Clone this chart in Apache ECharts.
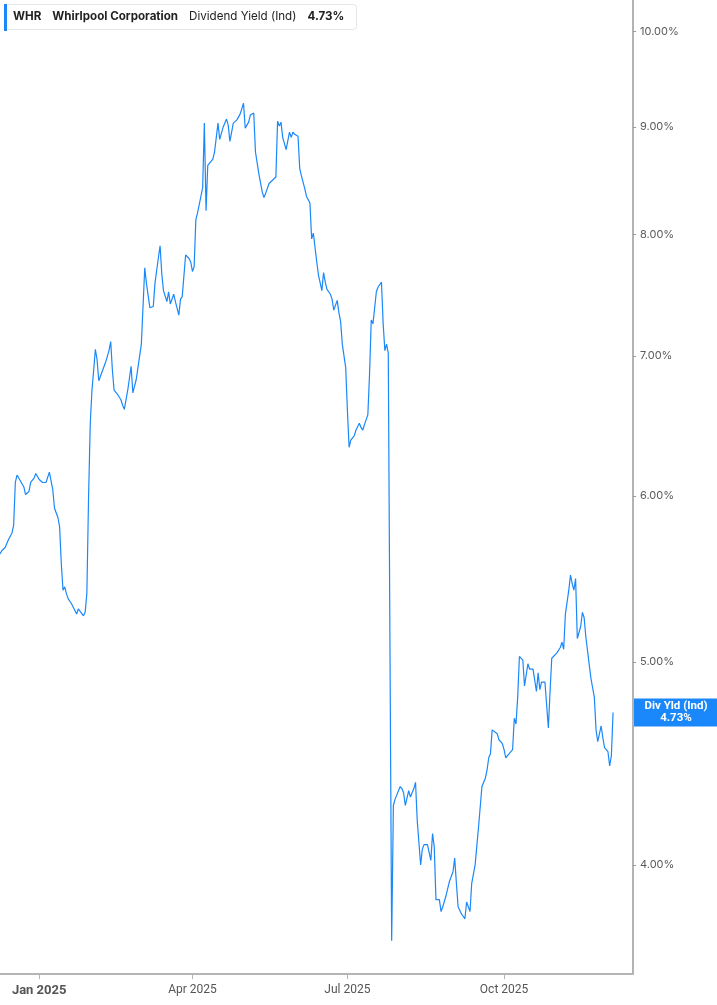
<!DOCTYPE html>
<html><head><meta charset="utf-8">
<script src="https://cdn.jsdelivr.net/npm/echarts@6/dist/echarts.min.js"></script>
<style>html,body{margin:0;padding:0;background:#fff}#c{width:717px;height:1005px}</style>
</head><body><div id="c"></div>
<script>
const dates = [
'2024-12-09','2024-12-10','2024-12-11','2024-12-12','2024-12-14','2024-12-16','2024-12-17','2024-12-18','2024-12-19','2024-12-21',
'2024-12-23','2024-12-24','2024-12-26','2024-12-27','2024-12-29','2024-12-30','2025-01-01','2025-01-03','2025-01-05','2025-01-07',
'2025-01-08','2025-01-09','2025-01-10','2025-01-12','2025-01-13','2025-01-14','2025-01-15','2025-01-16','2025-01-17','2025-01-18',
'2025-01-20','2025-01-21','2025-01-23','2025-01-24','2025-01-25','2025-01-27','2025-01-28','2025-01-29','2025-01-30','2025-01-31',
'2025-02-01','2025-02-02','2025-02-03','2025-02-04','2025-02-05','2025-02-06','2025-02-07','2025-02-09','2025-02-11','2025-02-12',
'2025-02-13','2025-02-14','2025-02-16','2025-02-18','2025-02-19','2025-02-20','2025-02-22','2025-02-24','2025-02-25','2025-02-26',
'2025-02-27','2025-02-28','2025-03-02','2025-03-04','2025-03-05','2025-03-07','2025-03-09','2025-03-10','2025-03-11','2025-03-13',
'2025-03-14','2025-03-15','2025-03-17','2025-03-18','2025-03-19','2025-03-21','2025-03-22','2025-03-24','2025-03-25','2025-03-26',
'2025-03-28','2025-03-30','2025-03-31','2025-04-01','2025-04-02','2025-04-03','2025-04-04','2025-04-07','2025-04-08','2025-04-09',
'2025-04-10','2025-04-11','2025-04-13','2025-04-14','2025-04-16','2025-04-17','2025-04-19','2025-04-21','2025-04-22','2025-04-23',
'2025-04-25','2025-04-27','2025-04-29','2025-05-01','2025-05-02','2025-05-04','2025-05-05','2025-05-07','2025-05-08','2025-05-09',
'2025-05-10','2025-05-12','2025-05-13','2025-05-14','2025-05-15','2025-05-16','2025-05-18','2025-05-20','2025-05-21','2025-05-22',
'2025-05-23','2025-05-24','2025-05-26','2025-05-28','2025-05-29','2025-05-30','2025-05-31','2025-06-02','2025-06-03','2025-06-04',
'2025-06-06','2025-06-07','2025-06-09','2025-06-10','2025-06-11','2025-06-12','2025-06-13','2025-06-14','2025-06-16','2025-06-17',
'2025-06-18','2025-06-19','2025-06-21','2025-06-22','2025-06-23','2025-06-25','2025-06-26','2025-06-27','2025-06-28','2025-06-30',
'2025-07-01','2025-07-02','2025-07-03','2025-07-05','2025-07-06','2025-07-08','2025-07-09','2025-07-10','2025-07-11','2025-07-13',
'2025-07-14','2025-07-15','2025-07-16','2025-07-18','2025-07-19','2025-07-21','2025-07-22','2025-07-23','2025-07-24','2025-07-25',
'2025-07-27','2025-07-28','2025-07-29','2025-08-01','2025-08-02','2025-08-03','2025-08-04','2025-08-06','2025-08-07','2025-08-08',
'2025-08-09','2025-08-10','2025-08-11','2025-08-13','2025-08-14','2025-08-15','2025-08-17','2025-08-18','2025-08-19','2025-08-20',
'2025-08-21','2025-08-22','2025-08-23','2025-08-24','2025-08-25','2025-08-26','2025-08-27','2025-08-28','2025-08-30','2025-09-01',
'2025-09-02','2025-09-03','2025-09-04','2025-09-06','2025-09-08','2025-09-09','2025-09-10','2025-09-11','2025-09-12','2025-09-13',
'2025-09-14','2025-09-15','2025-09-16','2025-09-18','2025-09-20','2025-09-21','2025-09-22','2025-09-23','2025-09-24','2025-09-25',
'2025-09-27','2025-09-28','2025-09-30','2025-10-01','2025-10-02','2025-10-04','2025-10-06','2025-10-07','2025-10-08','2025-10-09',
'2025-10-10','2025-10-11','2025-10-12','2025-10-13','2025-10-14','2025-10-15','2025-10-16','2025-10-18','2025-10-19','2025-10-20',
'2025-10-21','2025-10-22','2025-10-23','2025-10-25','2025-10-26','2025-10-27','2025-10-28','2025-10-29','2025-10-30','2025-11-01',
'2025-11-03','2025-11-04','2025-11-05','2025-11-06','2025-11-07','2025-11-08','2025-11-09','2025-11-10','2025-11-11','2025-11-12',
'2025-11-13','2025-11-15','2025-11-16','2025-11-17','2025-11-18','2025-11-19','2025-11-21','2025-11-22','2025-11-23','2025-11-24',
'2025-11-25','2025-11-27','2025-11-28','2025-11-29','2025-12-01','2025-12-02','2025-12-03','2025-12-04'
];
const yieldValues = [
5.63,5.65,5.64,5.67,5.72,5.76,5.81,6.09,6.14,6.10,
6.06,6.01,6.03,6.09,6.12,6.15,6.11,6.09,6.09,6.16,
6.17,6.04,5.92,5.86,5.80,5.57,5.41,5.43,5.39,5.36,
5.33,5.31,5.27,5.30,5.29,5.26,5.28,5.39,5.99,6.50,
6.74,6.89,7.05,6.97,6.81,6.82,6.88,6.95,7.04,7.11,
6.89,6.74,6.71,6.67,6.63,6.60,6.74,6.92,6.72,6.72,
6.82,6.91,7.09,7.71,7.58,7.38,7.39,7.58,7.69,7.90,
7.66,7.52,7.43,7.51,7.41,7.49,7.43,7.32,7.45,7.47,
7.82,7.79,7.76,7.68,7.72,8.13,8.19,8.42,9.04,8.21,
8.63,8.63,8.69,8.76,9.04,8.88,9.00,9.08,9.02,8.86,
9.04,9.07,9.13,9.24,8.99,9.05,9.12,9.14,8.76,8.75,
8.55,8.38,8.33,8.37,8.38,8.46,8.49,8.52,9.06,9.01,
9.05,8.90,8.78,8.95,8.90,8.95,8.93,8.91,8.60,8.53,
8.41,8.34,8.28,7.96,8.01,8.00,7.76,7.65,7.52,7.67,
7.59,7.53,7.49,7.45,7.36,7.44,7.34,7.27,7.09,6.91,
6.59,6.33,6.38,6.41,6.45,6.50,6.47,6.45,6.49,6.56,
6.86,7.28,7.25,7.51,7.55,7.59,7.25,7.04,7.09,7.02,
3.68,4.27,4.30,4.36,4.35,4.33,4.27,4.34,4.31,4.31,
4.35,4.38,4.20,4.00,4.07,4.09,4.09,4.09,4.02,4.14,
4.08,3.85,3.85,3.85,3.80,3.82,3.82,3.87,3.93,3.97,
4.03,3.92,3.82,3.79,3.77,3.84,3.84,3.80,3.92,3.96,
4.00,4.00,4.17,4.36,4.40,4.44,4.50,4.52,4.64,4.64,
4.62,4.59,4.57,4.54,4.50,4.52,4.54,4.70,4.67,4.81,
5.03,5.02,5.01,4.87,4.93,4.99,4.96,4.96,4.96,4.84,
4.94,4.85,4.89,4.89,4.88,4.65,4.84,5.02,5.03,5.05,
5.08,5.11,5.07,5.27,5.34,5.41,5.50,5.45,5.41,5.48,
5.13,5.20,5.28,5.25,5.14,5.13,4.91,4.86,4.81,4.64,
4.58,4.66,4.60,4.55,4.53,4.46,4.51,4.73
];
const yTickValues = [4, 5, 6, 7, 8, 9, 10];
const xTickDates = ['2025-01-01', '2025-04-01', '2025-07-01', '2025-10-01'];
const monthNames = ['Jan','Feb','Mar','Apr','May','Jun','Jul','Aug','Sep','Oct','Nov','Dec'];
const lastValue = yieldValues[yieldValues.length - 1];

const BLUE = '#1a88fa';
const toMs = s => echarts.time.parse(s).getTime();
const chart = echarts.init(document.getElementById('c'), null, {renderer: 'canvas'});
const xTicksMs = xTickDates.map(toMs);

chart.setOption({
  animation: false,
  backgroundColor: '#fff',
  textStyle: {fontFamily: 'Inter, Roboto, sans-serif'},
  title: {
    left: 4, top: 4,
    padding: [7, 12, 7, 9],
    backgroundColor: '#fff',
    borderColor: '#e6e6e6',
    borderWidth: 1,
    borderRadius: 3,
    text: '{a|WHR}{b|Whirlpool Corporation}{c|Dividend Yield (Ind)}{d|' + lastValue.toFixed(2) + '%}',
    textStyle: {
      rich: {
        a: {fontFamily: 'Inter', fontWeight: 'bold', fontSize: 11.6, color: '#222', padding: [0, 11, 0, 0]},
        b: {fontFamily: 'Inter', fontWeight: 'bold', fontSize: 11.6, color: '#222', padding: [0, 11, 0, 0]},
        c: {fontFamily: 'Inter', fontWeight: 'normal', fontSize: 11.6, color: '#222', padding: [0, 11, 0, 0]},
        d: {fontFamily: 'Inter', fontWeight: 'bold', fontSize: 11.6, color: '#222'}
      }
    }
  },
  grid: {left: 0, right: 84, top: 0, bottom: 31, containLabel: false, outerBoundsMode: 'none'},
  xAxis: {
    type: 'value',
    min: toMs('2024-12-09'),
    max: toMs('2025-12-15 17:00'),
    axisLine: {show: true, lineStyle: {color: '#b5b5b5', width: 2}},
    axisTick: {show: true, customValues: xTicksMs, length: 5, lineStyle: {color: '#b5b5b5'}},
    splitLine: {show: false},
    axisLabel: {
      customValues: xTicksMs,
      margin: 10,
      color: '#555',
      fontFamily: 'Liberation Sans Narrow, Roboto, sans-serif',
      fontSize: 12,
      formatter: function (val) {
        const d = new Date(val);
        const s = monthNames[d.getMonth()] + ' ' + d.getFullYear();
        return d.getMonth() === 0 ? '{b|' + s + '}' : s;
      },
      rich: {b: {fontWeight: 'bold', fontSize: 13, color: '#555', fontFamily: 'Liberation Sans Narrow, Roboto, sans-serif'}}
    }
  },
  yAxis: {
    type: 'log',
    position: 'right',
    min: 3.548,
    max: 10.35,
    axisLine: {show: true, lineStyle: {color: '#9a9a9a', width: 1.5}},
    axisTick: {show: true, customValues: yTickValues, length: 3, lineStyle: {color: '#9a9a9a'}},
    splitLine: {show: false},
    axisLabel: {
      customValues: yTickValues,
      margin: 7,
      color: '#5a5a5a',
      fontSize: 11,
      fontFamily: 'Inter, Roboto, sans-serif',
      formatter: v => Number(v).toFixed(2) + '%'
    }
  },
  series: [{
    type: 'line',
    name: 'Div Yld (Ind)',
    showSymbol: false,
    symbol: 'none',
    lineStyle: {width: 1.2, color: BLUE},
    itemStyle: {color: BLUE},
    data: dates.map((d, i) => [toMs(d), yieldValues[i]])
  }]
});

const py = chart.convertToPixel({yAxisIndex: 0}, lastValue);
chart.setOption({
  graphic: [
    {type: 'rect', left: 4, top: 4, shape: {width: 3, height: 27}, style: {fill: BLUE}, z: 100},
    {type: 'rect', shape: {x: 634, y: py - 14, width: 83, height: 28}, style: {fill: BLUE}, z: 100},
    {type: 'text', x: 676, y: py, z: 101,
     style: {text: 'Div Yld (Ind)\n' + lastValue.toFixed(2) + '%', fill: '#fff',
             font: 'bold 11.5px Roboto, sans-serif', textAlign: 'center', textVerticalAlign: 'middle',
             align: 'center', verticalAlign: 'middle', lineHeight: 12}}
  ]
});
</script></body></html>
